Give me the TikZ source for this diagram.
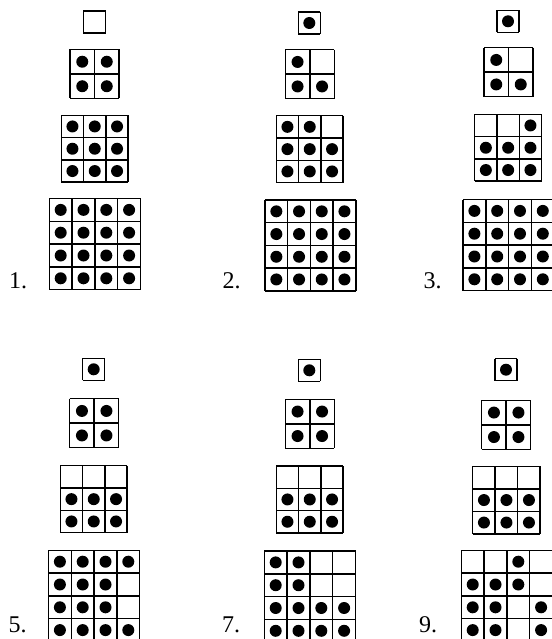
\documentclass[tikz,border=0pt]{standalone}
\usepackage{fontspec}
\setmainfont{Liberation Serif}
\tikzset{
  gridline/.style={line width=1.5pt, line cap=square, black},
  dotfill/.style={fill=black},
  lbl/.style={anchor=base west, inner sep=0pt, text depth=0pt, font=\fontsize{24}{28}\selectfont}
}
\newcommand{\sqgrid}[5]{%
  \begin{scope}[shift={(#1,#2)}]
    \foreach \k in {0,...,#3} {
      \draw[gridline] (\k*#4,0) -- (\k*#4,#3*#4);
      \draw[gridline] (0,\k*#4) -- (#3*#4,\k*#4);
    }
    \foreach \i/\j in {#5} {
      \fill[dotfill] (\i*#4+#4/2, \j*#4+#4/2) circle[radius=6pt];
    }
  \end{scope}}
\newcommand{\emptybox}[3]{%
  \draw[gridline] (#1,#2) rectangle ++(#3,#3);}
\begin{document}
\begin{tikzpicture}[x=1pt,y=-1pt]
\useasboundingbox (0,0) rectangle (551,639);
% ---------- 1 ----------
\emptybox{83.5}{11}{22}
\sqgrid{70}{49.5}{2}{24.5}{0/0,1/0,0/1,1/1}
\sqgrid{61.3}{115.3}{3}{22.3}{0/0,1/0,2/0,0/1,1/1,2/1,0/2,1/2,2/2}
\sqgrid{49.3}{198.5}{4}{22.8}{0/0,1/0,2/0,3/0,0/1,1/1,2/1,3/1,0/2,1/2,2/2,3/2,0/3,1/3,2/3,3/3}
\node[lbl] (l1) at (9,288.5) {1.};
% ---------- 2 ----------
\sqgrid{298.3}{12}{1}{22}{0/0}
\sqgrid{285.3}{49.7}{2}{24.5}{0/0,0/1,1/1}
\sqgrid{276.3}{115.7}{3}{22.3}{0/0,1/0,0/1,1/1,2/1,0/2,1/2,2/2}
\sqgrid{265}{200}{4}{22.7}{0/0,1/0,2/0,3/0,0/1,1/1,2/1,3/1,0/2,1/2,2/2,3/2,0/3,1/3,2/3,3/3}
\node[lbl] (l2) at (222.5,288.5) {2.};
% ---------- 3 ----------
\sqgrid{497}{10.3}{1}{22}{0/0}
\sqgrid{484}{47.7}{2}{24.5}{0/0,0/1,1/1}
\sqgrid{474.7}{114.3}{3}{22.3}{2/0,0/1,1/1,2/1,0/2,1/2,2/2}
\sqgrid{463}{199.5}{4}{22.8}{0/0,1/0,2/0,3/0,0/1,1/1,2/1,3/1,0/2,1/2,2/2,3/2,0/3,1/3,2/3,3/3}
\node[lbl] (l3) at (423.5,288.5) {3.};
% ---------- 5 ----------
\sqgrid{82.7}{358.3}{1}{22}{0/0}
\sqgrid{69.7}{398.7}{2}{24.5}{0/0,1/0,0/1,1/1}
\sqgrid{60.3}{465.7}{3}{22.3}{0/1,1/1,2/1,0/2,1/2,2/2}
\sqgrid{48.5}{550.3}{4}{22.8}{0/0,1/0,2/0,3/0,0/1,1/1,2/1,0/2,1/2,2/2,0/3,1/3,2/3,3/3}
\node[lbl] (l5) at (8.5,632) {5.};
% ---------- 7 ----------
\sqgrid{298.3}{359.3}{1}{22}{0/0}
\sqgrid{285.3}{399.3}{2}{24.5}{0/0,1/0,0/1,1/1}
\sqgrid{276.3}{466}{3}{22.3}{0/1,1/1,2/1,0/2,1/2,2/2}
\sqgrid{264.3}{551}{4}{22.8}{0/0,1/0,0/1,1/1,0/2,1/2,2/2,3/2,0/3,1/3,2/3,3/3}
\node[lbl] (l7) at (222,632) {7.};
% ---------- 9 ----------
\sqgrid{495}{358.7}{1}{22}{0/0}
\sqgrid{481.7}{400.3}{2}{24.5}{0/0,1/0,0/1,1/1}
\sqgrid{472.7}{466.3}{3}{22.5}{0/1,1/1,2/1,0/2,1/2,2/2}
\sqgrid{461.3}{550.3}{4}{22.8}{2/0,0/1,1/1,2/1,0/2,1/2,3/2,0/3,1/3,3/3}
\node[lbl] (l9) at (419,632) {9.};
\end{tikzpicture}
\end{document}
